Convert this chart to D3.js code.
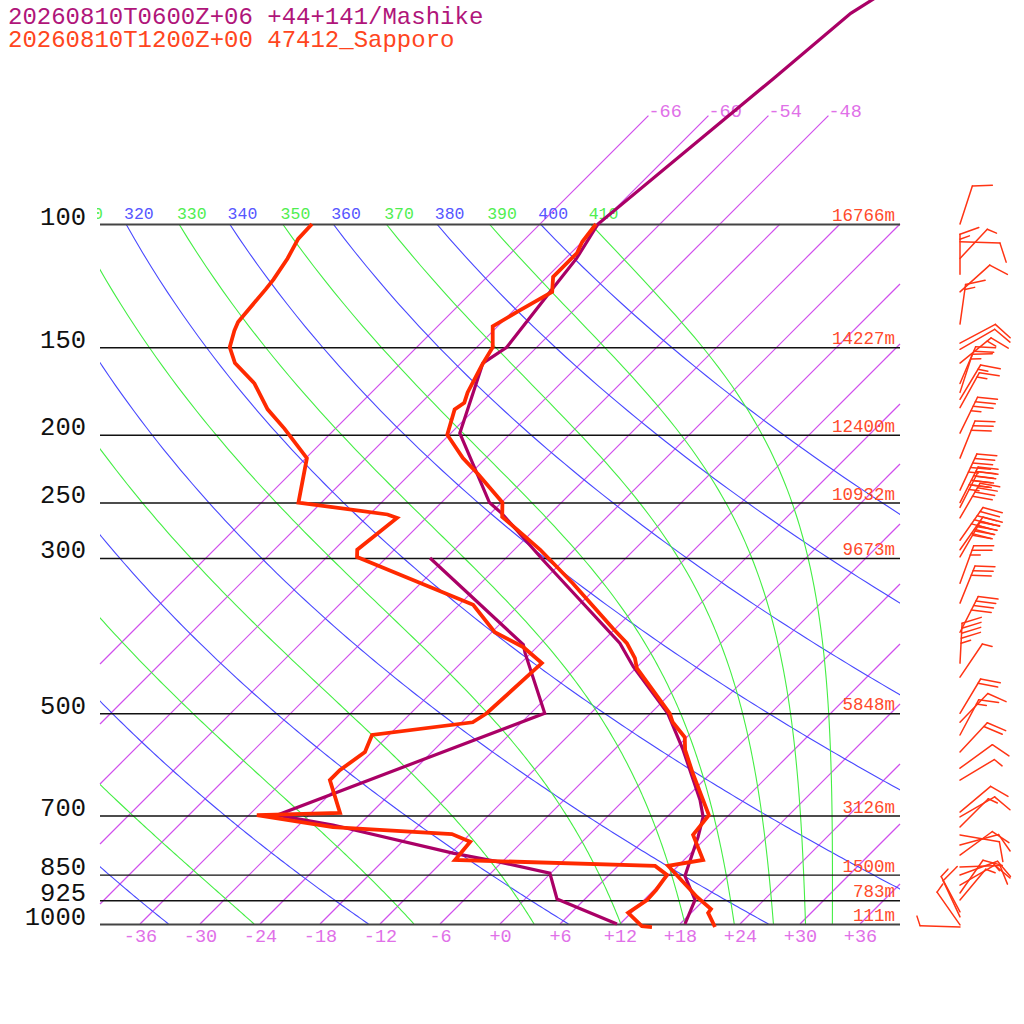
<!DOCTYPE html>
<html>
<head>
<meta charset="utf-8">
<script src="https://cdn.jsdelivr.net/npm/d3@7"></script>
<style>
body { margin: 0; background: #fff; }
svg { display: block; }
</style>
</head>
<body>
<script>
// titles
var titleMashike = '20260810T0600Z+06 +44+141/Mashike';
var titleSapporo = '20260810T1200Z+00 47412_Sapporo';

// axes
var pressureTicks = [100, 150, 200, 250, 300, 500, 700, 850, 925, 1000];
var heightLabels = ['16766m', '14227m', '12400m', '10932m', '9673m', '5848m', '3126m', '1500m', '783m', '111m'];
var tempTicks = [-36, -30, -24, -18, -12, -6, 0, 6, 12, 18, 24, 30, 36];
var isotherms = [-66, -60, -54, -48, -42, -36, -30, -24, -18, -12, -6, 0, 6, 12, 18, 24, 30, 36];
var isoTopTemps = [-66, -60, -54, -48];   // these run on up to 70 hPa with a label
var dryThetas = [240, 260, 280, 300, 320, 340, 360, 380, 400];
var moistThetaE = [250, 270, 290, 310, 330, 350, 370, 390, 410];

// soundings [hPa, degC]
var sapporoT = [[1010,21.8],[964,19.7],[952,19.6],[915,17.0],[826,11.0],[810,13.9],[746,10.4],[699,10.0],
  [609,4.2],[564,1.1],[541,-0.2],[515,-2.9],[500,-4.1],[431,-11.9],[417,-13.1],[397,-15.4],[378,-18.3],
  [326,-26.8],[292,-33.4],[278,-36.6],[262,-40.5],[250,-41.9],[228,-47.1],[216,-50.3],[200,-54.2],
  [184,-56.0],[180,-55.7],[174,-56.4],[159,-57.7],[150,-58.4],[140,-60.5],[133,-59.4],[125,-58.0],
  [119,-59.4],[110,-59.4],[106,-60.0],[100,-60.4]];
var sapporoTd = [[1010,15.5],[1007,14.4],[964,11.7],[924,12.3],[894,12.2],[851,11.8],[826,9.7],[810,-10.9],
  [763,-11.2],[744,-13.8],[727,-26.4],[699,-35.2],[694,-27.1],[623,-31.4],[603,-31.4],[568,-30.7],
  [537,-31.7],[515,-22.9],[500,-22.4],[424,-21.9],[402,-25.4],[383,-29.7],[350,-34.6],[299,-51.0],
  [292,-51.7],[263,-50.9],[260,-52.2],[250,-62.3],[216,-65.9],[196,-71.1],[184,-74.7],[169,-78.6],
  [158,-82.6],[150,-84.7],[142,-85.9],[138,-86.4],[124,-86.9],[120,-87.1],[112,-87.8],[105,-88.7],[100,-88.8]];
var mashikeT = [[1000,18.5],[924,17.1],[854,13.7],[797,12.3],[751,11.1],[703,9.6],[665,7.6],[564,0.9],
  [500,-4.3],[429,-12.4],[397,-16.1],[302,-32.1],[259,-40.9],[250,-43.2],[199,-53.1],[158,-57.8],
  [150,-57.0],[125,-58.2],[112,-58.9],[100,-60.2],[62,-57.2],[50,-56.0],[45,-54.1]];
var mashikeTd = [[1000,11.7],[921,3.2],[846,-0.1],[816,-6.2],[792,-11.8],[722,-26.6],[699,-33.2],
  [500,-16.6],[410,-24.6],[399,-25.6],[300,-43.6]];

// winds (Sapporo): pressure hPa, direction deg, speed kt
var windP   = [100,106,112,118,125,139,148,151,158,169,174,178,183,199,216,240,250,254,263,283,292,299,
               326,348,383,424,444,500,515,537,568,599,623,692,703,727,746,771,797,829,851,880,903,924,961,977,1003,1010];
var windDir = [18,92,43,0,48,8,62,60,51,23,18,31,29,26,22,25,27,27,30,35,35,30,
               20,22,27,3,34,31,44,28,43,54,59,50,60,45,100,75,54,88,70,60,35,40,332,335,325,272];
var windSpd = [10,10,5,15,10,15,10,10,15,20,15,15,15,35,30,45,50,45,40,50,50,40,
               25,30,40,45,5,20,10,15,20,10,5,10,10,5,10,10,10,10,15,10,10,5,5,10,5,5];

var W = 1024, H = 1024;
var svg = d3.select('body').append('svg').attr('width', W).attr('height', H);
var font = '"Liberation Mono", "DejaVu Sans Mono", monospace';

var y = d3.scaleLog().domain([1000, 100]).range([924, 224]);
var x = d3.scaleLinear().domain([-40, 40]).range([100, 900]);
function sx(t, p) { return x(t) + (y(1000) - y(p)); }   // 45 degree skew

var defs = svg.append('defs');
defs.append('clipPath').attr('id', 'clipPlot').append('rect').attr('x', 100).attr('y', 224).attr('width', 800).attr('height', 700);
defs.append('clipPath').attr('id', 'clipLab').append('rect').attr('x', 97).attr('y', 190).attr('width', 803).attr('height', 40);

var lineGen = d3.line().x(function(d){ return sx(d[1], d[0]); }).y(function(d){ return y(d[0]); });
var levels = d3.range(1000, 99, -5);

// dry adiabats
function dryT(th, p) { return th * Math.pow(p / 1000, 0.2857) - 273.15; }
var dryLines = dryThetas.map(function(th){ return levels.map(function(p){ return [p, dryT(th, p)]; }); });

// pseudo-adiabats from Bolton theta-e
function thetaE(tc, p) {
  var es = 6.112 * Math.exp(17.67 * tc / (tc + 243.5));
  if (es > 0.6 * p) return Infinity;
  var r = 622 * es / (p - es), tk = tc + 273.15;
  return tk * Math.pow(1000 / p, 0.2854 * (1 - 0.00028 * r)) * Math.exp((3.376 / tk - 0.00254) * r * (1 + 0.00081 * r));
}
function moistT(te, p) {
  var lo = -150, hi = 45;
  for (var k = 0; k < 60; k++) {
    var mid = (lo + hi) / 2;
    if (thetaE(mid, p) > te) hi = mid; else lo = mid;
  }
  return (lo + hi) / 2;
}
var moistLines = moistThetaE.map(function(te){ return levels.map(function(p){ return [p, moistT(te, p)]; }); });

// isotherms, cut to the frame by hand
var isoSegs = isotherms.map(function(t){
  var pTop = isoTopTemps.indexOf(t) >= 0 ? 70 : 100;
  var p0 = 1000, p1 = pTop;
  if (sx(t, p0) < 100) p0 = y.invert(y(1000) - (100 - x(t)));
  if (sx(t, p1) > 900) p1 = y.invert(y(1000) - (900 - x(t)));
  return [[p0, t], [p1, t]];
});
var gIso = svg.append('g');
gIso.selectAll('path').data(isoSegs).enter().append('path')
  .attr('d', lineGen)
  .attr('fill', 'none').attr('stroke', '#d050ec').attr('stroke-width', 1.2);

gIso.selectAll('text').data(isoTopTemps).enter().append('text')
  .attr('x', function(d){ return sx(d, 70); }).attr('y', y(70) + 1)
  .attr('font-family', font).attr('font-size', 18.5).attr('fill', '#e070e8')
  .text(function(d){ return d; });

// adiabats
var gAd = svg.append('g').attr('clip-path', 'url(#clipPlot)');
gAd.selectAll('path.dry').data(dryLines).enter().append('path')
  .attr('class', 'dry').attr('d', lineGen).attr('fill', 'none').attr('stroke', '#4848ff').attr('stroke-width', 1.1);
gAd.selectAll('path.moist').data(moistLines).enter().append('path')
  .attr('class', 'moist').attr('d', lineGen).attr('fill', 'none').attr('stroke', '#44ee44').attr('stroke-width', 1.1);

// adiabat labels where they meet 100 hPa
var dryLab = dryThetas.filter(function(d){ return sx(dryT(d, 100), 100) > 60; });
var moistLab = moistThetaE.filter(function(d){ return sx(moistT(d, 100), 100) > 60; });
var gLab = svg.append('g').attr('clip-path', 'url(#clipLab)')
  .attr('font-family', font).attr('font-size', 16.5);
gLab.selectAll('text.dl').data(dryLab).enter().append('text')
  .attr('x', function(d){ return sx(dryT(d, 100), 100) - 2; }).attr('y', y(100) - 5)
  .attr('fill', '#5656ff').text(function(d){ return d; });
gLab.selectAll('text.ml').data(moistLab).enter().append('text')
  .attr('x', function(d){ return sx(moistT(d, 100), 100) - 2; }).attr('y', y(100) - 5)
  .attr('fill', '#50ee50').text(function(d){ return d; });

// isobars and pressure labels
var yAxis = svg.append('g').attr('transform', 'translate(100,0)')
  .call(d3.axisLeft(y).tickValues(pressureTicks).tickSize(-800).tickPadding(14).tickFormat(d3.format('d')));
yAxis.select('.domain').remove();
yAxis.selectAll('.tick line').attr('stroke', function(d){ return (d === 100 || d === 1000) ? '#444' : '#111'; })
  .attr('stroke-width', function(d){ return (d === 100 || d === 1000) ? 2 : 1.4; });
yAxis.selectAll('text').attr('dy', 0).attr('fill', '#111')
  .attr('font-family', font).attr('font-size', 25.5);

// bottom temperature labels
var xAxis = svg.append('g').attr('transform', 'translate(0,' + y(1000) + ')')
  .call(d3.axisBottom(x).tickValues(tempTicks).tickSize(0).tickPadding(5)
    .tickFormat(function(d){ return (d >= 0 ? '+' : '') + d; }));
xAxis.select('.domain').remove();
xAxis.selectAll('.tick line').remove();
xAxis.selectAll('text').attr('fill', '#e070e8').attr('font-family', font).attr('font-size', 18.5);

// heights
svg.append('g').selectAll('text').data(pressureTicks).enter().append('text')
  .attr('x', 895).attr('y', function(d){ return y(d) - 3; })
  .attr('text-anchor', 'end').attr('font-family', font).attr('font-size', 17.5).attr('fill', '#ff4a2a')
  .text(function(d, i){ return heightLabels[i]; });

// profiles
function prof(data, col, w) {
  svg.append('path').datum(data).attr('d', lineGen)
    .attr('fill', 'none').attr('stroke', col).attr('stroke-width', w);
}
prof(mashikeTd, '#aa0066', 3.2);
prof(mashikeT, '#aa0066', 3.2);
prof(sapporoTd, '#ff2a00', 3.8);
prof(sapporoT, '#ff2a00', 3.8);

// wind barbs
var gB = svg.append('g').attr('stroke', '#ff3414').attr('stroke-width', 1.5).attr('stroke-linecap', 'round');
var rot = 70 * Math.PI / 180;
windP.forEach(function(p, i) {
  var a = windDir[i] * Math.PI / 180, s = windSpd[i];
  var ux = Math.sin(a), uy = -Math.cos(a);
  var fx = ux * Math.cos(rot) - uy * Math.sin(rot), fy = ux * Math.sin(rot) + uy * Math.cos(rot);
  var bx = 960, by = y(p), tx = bx + 40 * ux, ty = by + 40 * uy;
  gB.append('line').attr('x1', bx).attr('y1', by).attr('x2', tx).attr('y2', ty);
  var n = Math.floor(s / 10), half = (s % 10) >= 5, k = 0;
  for (k = 0; k < n; k++) {
    var px = tx - k * 5 * ux, py = ty - k * 5 * uy;
    gB.append('line').attr('x1', px).attr('y1', py).attr('x2', px + 20 * fx).attr('y2', py + 20 * fy);
  }
  if (half) {
    var hx = tx - k * 5 * ux, hy = ty - k * 5 * uy;
    gB.append('line').attr('x1', hx).attr('y1', hy).attr('x2', hx + 10 * fx).attr('y2', hy + 10 * fy);
  }
});

// titles
svg.append('text').attr('x', 8).attr('y', 24).attr('font-family', font).attr('font-size', 24)
  .attr('fill', '#b0157a').text(titleMashike);
svg.append('text').attr('x', 8).attr('y', 47).attr('font-family', font).attr('font-size', 24)
  .attr('fill', '#ff4520').text(titleSapporo);
</script>
</body>
</html>
